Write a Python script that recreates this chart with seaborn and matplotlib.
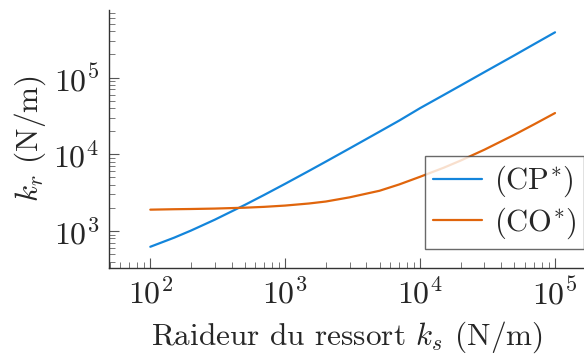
import matplotlib
matplotlib.use('Agg')
import matplotlib.pyplot as plt  # noqa: E402
import seaborn as sns  # noqa: E402
import pandas as pd  # noqa: E402

# spring stiffness k_s (N/m)
k_s = [100, 150, 200, 300, 500, 700, 1e3, 1.5e3, 2e3, 3e3, 5e3, 7e3,
       1e4, 1.5e4, 2e4, 3e4, 5e4, 7e4, 1e5]
# resulting stiffness k_r (N/m) for each configuration
k_r_cp = [624, 819, 1014, 1404, 2184, 2964, 4134, 6084, 8034, 11934,
          19734, 27534, 40000, 59500, 79000, 118000, 195000, 273000, 389000]
k_r_co = [1900, 1925, 1938, 1963, 2015, 2068, 2149, 2287, 2426, 2750,
          3350, 4050, 5100, 6700, 8300, 11500, 18000, 24600, 34500]
series = ['(CP$^{*}$)', '(CO$^{*}$)']
colors = ['#1385db', '#e0650c']

df = pd.DataFrame({
    'k_s': k_s * 2,
    'k_r': k_r_cp + k_r_co,
    'config': [series[0]] * len(k_s) + [series[1]] * len(k_s),
})

sns.set_theme(style='ticks')
plt.rcParams['font.family'] = ['cmr10', 'DejaVu Serif']
plt.rcParams['mathtext.fontset'] = 'cm'
plt.rcParams['axes.unicode_minus'] = False
plt.rcParams['axes.formatter.use_mathtext'] = True

fig = plt.figure(figsize=(5.84, 3.58), dpi=100)
ax = fig.add_axes([109 / 584, 90 / 358, 475 / 584, 258 / 358])

sns.lineplot(data=df, x='k_s', y='k_r', hue='config',
             palette=dict(zip(series, colors)), linewidth=1.6, ax=ax)

ax.set_xscale('log')
ax.set_yscale('log')
ax.set_xlim(49.4, 1.64e5)
ax.set_ylim(330, 7.6e5)

sns.despine(ax=ax)
for side in ['left', 'bottom']:
    ax.spines[side].set_color('#333333')
    ax.spines[side].set_linewidth(1.0)
ax.tick_params(which='major', direction='in', length=7, width=0.8,
               color='#555555', labelsize=23, pad=7)
ax.tick_params(which='minor', direction='in', length=4, width=0.7,
               color='#777777')

ax.set_xlabel('Raideur du ressort $k_s$ (N/m)', fontsize=22.5, labelpad=7)
ax.set_ylabel('$k_r$ (N/m)', fontsize=22.5, labelpad=4)

leg = ax.legend(loc='lower right', bbox_to_anchor=(1.0, 0.075),
                borderaxespad=0, fontsize=22, frameon=True, fancybox=False,
                handlelength=1.6, handletextpad=0.4, borderpad=0.25,
                labelspacing=0.2)
leg.get_frame().set_edgecolor('#444444')
leg.get_frame().set_linewidth(1.0)

plt.savefig('out.png', dpi=100)
plt.close()
